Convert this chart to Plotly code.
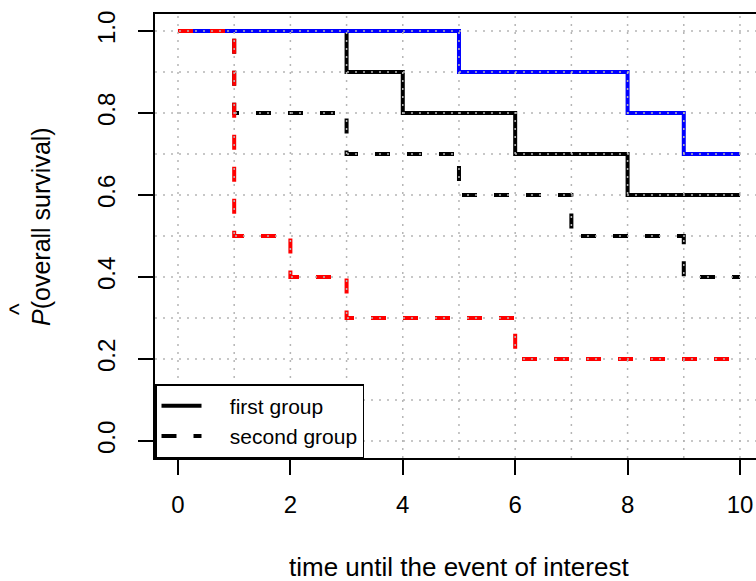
import plotly.graph_objects as go
import numpy as np

# ---- data ----
time_black_solid = [0, 3, 4, 6, 8, 10]
surv_black_solid = [1.0, 0.9, 0.8, 0.7, 0.6, 0.6]

time_blue_solid = [0, 5, 8, 9, 10]
surv_blue_solid = [1.0, 0.9, 0.8, 0.7, 0.7]

time_black_dash = [0, 1, 3, 5, 7, 9, 10]
surv_black_dash = [1.0, 0.8, 0.7, 0.6, 0.5, 0.4, 0.4]

time_red_dash = [0, 1, 2, 3, 6, 10]
surv_red_dash = [1.0, 0.5, 0.4, 0.3, 0.2, 0.2]

x_ticks = [0, 2, 4, 6, 8, 10]
y_ticks = [0.0, 0.2, 0.4, 0.6, 0.8, 1.0]
y_tick_labels = ["0.0", "0.2", "0.4", "0.6", "0.8", "1.0"]
legend_labels = ["first group", "second group"]

FONT = "Liberation Sans, Arial, Helvetica, sans-serif"
LW = 4
DASH = "15px,17px"
PAD = "\u00a0" * 4

fig = go.Figure()

series = [
    (time_black_solid, surv_black_solid, "black", "solid"),
    (time_black_dash, surv_black_dash, "black", DASH),
    (time_blue_solid, surv_blue_solid, "#0000ff", "solid"),
    (time_red_dash, surv_red_dash, "#ff0000", DASH),
]
for t, s, c, d in series:
    fig.add_trace(go.Scatter(
        x=t, y=s, mode="lines", line=dict(color=c, width=LW, dash=d, shape="hv"),
        showlegend=False, hoverinfo="skip"))

# legend entries
fig.add_trace(go.Scatter(x=[None], y=[None], mode="lines", name=PAD + legend_labels[0],
                         line=dict(color="black", width=LW, dash="solid")))
fig.add_trace(go.Scatter(x=[None], y=[None], mode="lines", name=PAD + legend_labels[1],
                         line=dict(color="black", width=LW, dash=DASH)))

# dotted grid drawn above the curves
grid_style = dict(color="#b5b5b5", width=1.5, dash="2px,6px")
shapes = []
for gx in range(0, 11):
    shapes.append(dict(type="line", xref="x", yref="paper", x0=gx, x1=gx, y0=0, y1=1,
                       line=grid_style, layer="above"))
for gy in np.round(np.arange(0, 1.01, 0.1), 1):
    shapes.append(dict(type="line", xref="paper", yref="y", x0=0, x1=1, y0=gy, y1=gy,
                       line=grid_style, layer="above"))

# plot area at x 155..756, y 14..458 of the 756x581 window
fig.update_layout(
    width=756, height=581,
    margin=dict(l=155, r=0, t=14, b=123, pad=0, autoexpand=False),
    paper_bgcolor="white", plot_bgcolor="white",
    font=dict(family=FONT, color="black", size=24),
    shapes=shapes,
    showlegend=True,
    legend=dict(x=0, y=0, xanchor="left", yanchor="bottom",
                bgcolor="white", bordercolor="black", borderwidth=1.5,
                font=dict(size=21, family=FONT, color="black"),
                tracegroupgap=0, itemwidth=40),
    xaxis=dict(range=[-0.409, 10.285], tickvals=x_ticks, ticktext=[str(v) for v in x_ticks],
               showgrid=False, zeroline=False, showline=True, linecolor="black", linewidth=1.5,
               mirror=True, ticks="outside", ticklen=15, tickwidth=1.5, tickcolor="black",
               automargin=False, ticklabeloverflow="allow",
               ticklabelstandoff=9, tickfont=dict(size=24, family=FONT)),
    yaxis=dict(range=[-0.0415, 1.0415], tickvals=y_ticks, ticktext=y_tick_labels,
               showgrid=False, zeroline=False, showline=True, linecolor="black", linewidth=1.5,
               mirror=False, ticks="outside", ticklen=15, tickwidth=1.5, tickcolor="black",
               automargin=False, ticklabeloverflow="allow",
               tickangle=-90, ticklabelstandoff=14, tickfont=dict(size=24, family=FONT)),
    annotations=[
        dict(text="time until the event of interest", xref="paper", yref="paper",
             x=(459 - 155) / 601, y=-(567 - 458) / 444, xanchor="center", yanchor="middle",
             showarrow=False, font=dict(size=26, family=FONT)),
        dict(text="<i>P</i>(overall survival)", xref="paper", yref="paper",
             x=-(155 - 41) / 601, y=(458 - 227) / 444, xanchor="center", yanchor="middle",
             textangle=-90, showarrow=False, font=dict(size=25, family=FONT)),
        dict(text="^", xref="paper", yref="paper",
             x=-(155 - 19) / 601, y=(458 - 309) / 444, xanchor="center", yanchor="middle",
             textangle=-90, showarrow=False, font=dict(size=25, family=FONT)),
    ],
)

fig.write_html(
    "out.html",
    config={"displayModeBar": False},
    post_script="document.body.style.margin='0';document.body.style.overflow='hidden';",
)
